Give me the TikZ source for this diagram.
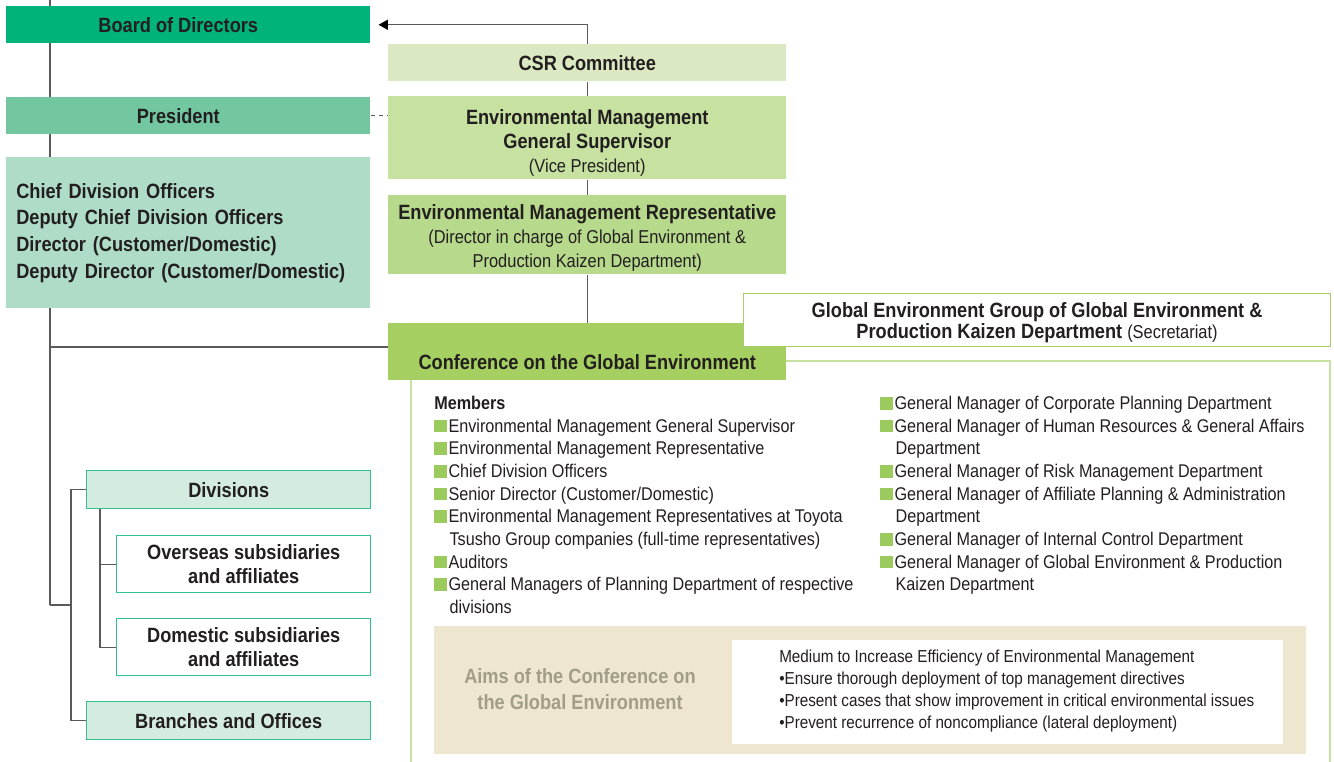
\documentclass[tikz,border=0pt]{standalone}
\usepackage{fontspec}
\setmainfont{Liberation Sans}[FakeStretch=0.88]
\usetikzlibrary{arrows.meta,calc,backgrounds}

\definecolor{ink}{HTML}{231F20}
\definecolor{boardgreen}{HTML}{00B37B}
\definecolor{presgreen}{HTML}{72C6A0}
\definecolor{chiefgreen}{HTML}{AEDCC6}
\definecolor{csrgreen}{HTML}{DAE9C1}
\definecolor{supgreen}{HTML}{C6E1A0}
\definecolor{repgreen}{HTML}{B6D98B}
\definecolor{confgreen}{HTML}{A5CF60}
\definecolor{divfill}{HTML}{D4ECE0}
\definecolor{divline}{HTML}{34BF8E}
\definecolor{sqgreen}{HTML}{9BCB5D}
\definecolor{beige}{HTML}{EFE6CF}
\definecolor{aimgray}{HTML}{A09D88}
\definecolor{linkgray}{HTML}{5A5A5A}

\newcommand{\sq}{\textcolor{sqgreen}{\rule{9.5pt}{9.5pt}}\hspace{1.2pt}}
\newcommand{\cont}{\hspace*{11.5pt}}
\newcommand{\reg}[1]{{\mdseries\fontsize{14}{18}\selectfont #1}}

\tikzset{
  sz/.style 2 args={minimum width=#1*0.75pt, minimum height=#2*0.75pt},
  orgbox/.style={anchor=north west, inner sep=0pt, align=center, text=ink,
    font=\bfseries\fontsize{15.5}{18}\selectfont},
  unitbox/.style={orgbox, draw=divline, line width=1.1pt},
  link/.style={draw=linkgray, line width=0.8pt},
  memberlist/.style={anchor=north west, inner sep=0pt, align=left, text=ink,
    font=\fontsize{13.8}{17}\selectfont}
}

\begin{document}
\begin{tikzpicture}[x=0.75pt, y=-0.75pt]
\useasboundingbox (0,0) rectangle (1334,762);

% --- left column: company line ---
\node[orgbox, fill=boardgreen, sz={364}{37}] (board) at (6,6) {Board of Directors\kern15pt};
\node[orgbox, fill=presgreen, sz={364}{37}] (pres) at (6,97) {President\kern15pt};
\node[orgbox, fill=chiefgreen, sz={364}{151}, align=left, text width=344*0.75pt,
      inner xsep=7.5pt, font=\bfseries\fontsize{15.5}{20}\selectfont] (chief) at (6,157)
  {Chief Division Officers\\Deputy Chief Division Officers\\Director (Customer/Domestic)\\Deputy Director (Customer/Domestic)};

% --- middle column: environmental line ---
\node[orgbox, fill=csrgreen, sz={398}{37}] (csr) at (388,44) {CSR Committee};
\node[orgbox, fill=supgreen, sz={398}{83}, text height=55pt, text depth=3pt] (emgs) at (388,96)
  {Environmental Management\\General Supervisor\\\reg{(Vice President)}};
\node[orgbox, fill=repgreen, sz={398}{79}, text height=51.5pt, text depth=3pt] (emr) at (388,195)
  {Environmental Management Representative\\\reg{(Director in charge of Global Environment \&}\\\reg{Production Kaizen Department)}};
\node[orgbox, fill=confgreen, sz={398}{57}, text height=30pt, text depth=3pt] (conf) at (388,323)
  {Conference on the Global Environment};
\node[orgbox, fill=white, draw=confgreen, line width=0.8pt, sz={587}{53},
      text height=31pt, text depth=3pt,
      font=\bfseries\fontsize{15.5}{15.8}\selectfont] (sec) at (743,293)
  {Global Environment Group of Global Environment \&\\Production Kaizen Department \reg{(Secretariat)}};

% --- members of the conference ---
\node[memberlist] (memL) at (434,396) {\textbf{Members}\\
  \sq Environmental Management General Supervisor\\
  \sq Environmental Management Representative\\
  \sq Chief Division Officers\\
  \sq Senior Director (Customer/Domestic)\\
  \sq Environmental Management Representatives at Toyota\\
  \cont Tsusho Group companies (full-time representatives)\\
  \sq Auditors\\
  \sq General Managers of Planning Department of respective\\
  \cont divisions};
\node[memberlist] (memR) at (880,396) {%
  \sq General Manager of Corporate Planning Department\\
  \sq General Manager of Human Resources \& General Affairs\\
  \cont Department\\
  \sq General Manager of Risk Management Department\\
  \sq General Manager of Affiliate Planning \& Administration\\
  \cont Department\\
  \sq General Manager of Internal Control Department\\
  \sq General Manager of Global Environment \& Production\\
  \cont Kaizen Department};

% --- aims ---
\node[orgbox, fill=beige, sz={872}{128}] (aims) at (434,626) {};
\node[inner sep=0pt, align=center, text=aimgray, font=\bfseries\fontsize{15.5}{19.5}\selectfont]
  (aimtxt) at (580,689) {Aims of the Conference on\\the Global Environment};
\node[orgbox, fill=white, sz={551}{104}] (aimw) at (732,640) {};
\node[memberlist, font=\fontsize{13}{16.5}\selectfont] (aimlist) at (779,650)
  {Medium to Increase Efficiency of Environmental Management\\
   \textbullet Ensure thorough deployment of top management directives\\
   \textbullet Present cases that show improvement in critical environmental issues\\
   \textbullet Prevent recurrence of noncompliance (lateral deployment)};

% --- divisions tree ---
\node[unitbox, fill=divfill, sz={284}{38}] (div) at (86,470) {Divisions};
\node[unitbox, fill=white, sz={254}{57}] (ovs) at (116,535) {Overseas subsidiaries\\and affiliates};
\node[unitbox, fill=white, sz={254}{57}] (dom) at (116,618) {Domestic subsidiaries\\and affiliates};
\node[unitbox, fill=divfill, sz={284}{38}] (brn) at (86,701) {Branches and Offices};

% --- connectors (behind the boxes) ---
\coordinate (spinetop) at (50,0);
\coordinate (fork) at (50,605);
\coordinate (cj) at (50,347);
\begin{scope}[on background layer]
  \draw[draw=supgreen, line width=1.2pt] (411,361) rectangle (1330,775);
  \draw[link] (spinetop) -- (fork);
  \draw[link] (cj) -- (cj -| conf.west);
  \draw[link] (fork) -- ++(21,0) coordinate (fk);
  \draw[link] (fk) |- (div.west);
  \draw[link] (fk) |- (brn.west);
  \draw[link] ($(div.south west)+(14,0)$) coordinate (dk) |- (ovs.west);
  \draw[link] (dk) |- (dom.west);
  \draw[link] (csr.south) -- (emgs.north);
  \draw[link] (emgs.south) -- (emr.north);
  \draw[link] (emr.south) -- (conf.north);
  \draw[link, -{Triangle[length=7pt,width=7.5pt,color=black]}, shorten >=6pt] (csr.north) |- (board.east);
  \draw[link, dashed] (pres.east) -- (pres.east -| emgs.west);
\end{scope}

\end{tikzpicture}
\end{document}
